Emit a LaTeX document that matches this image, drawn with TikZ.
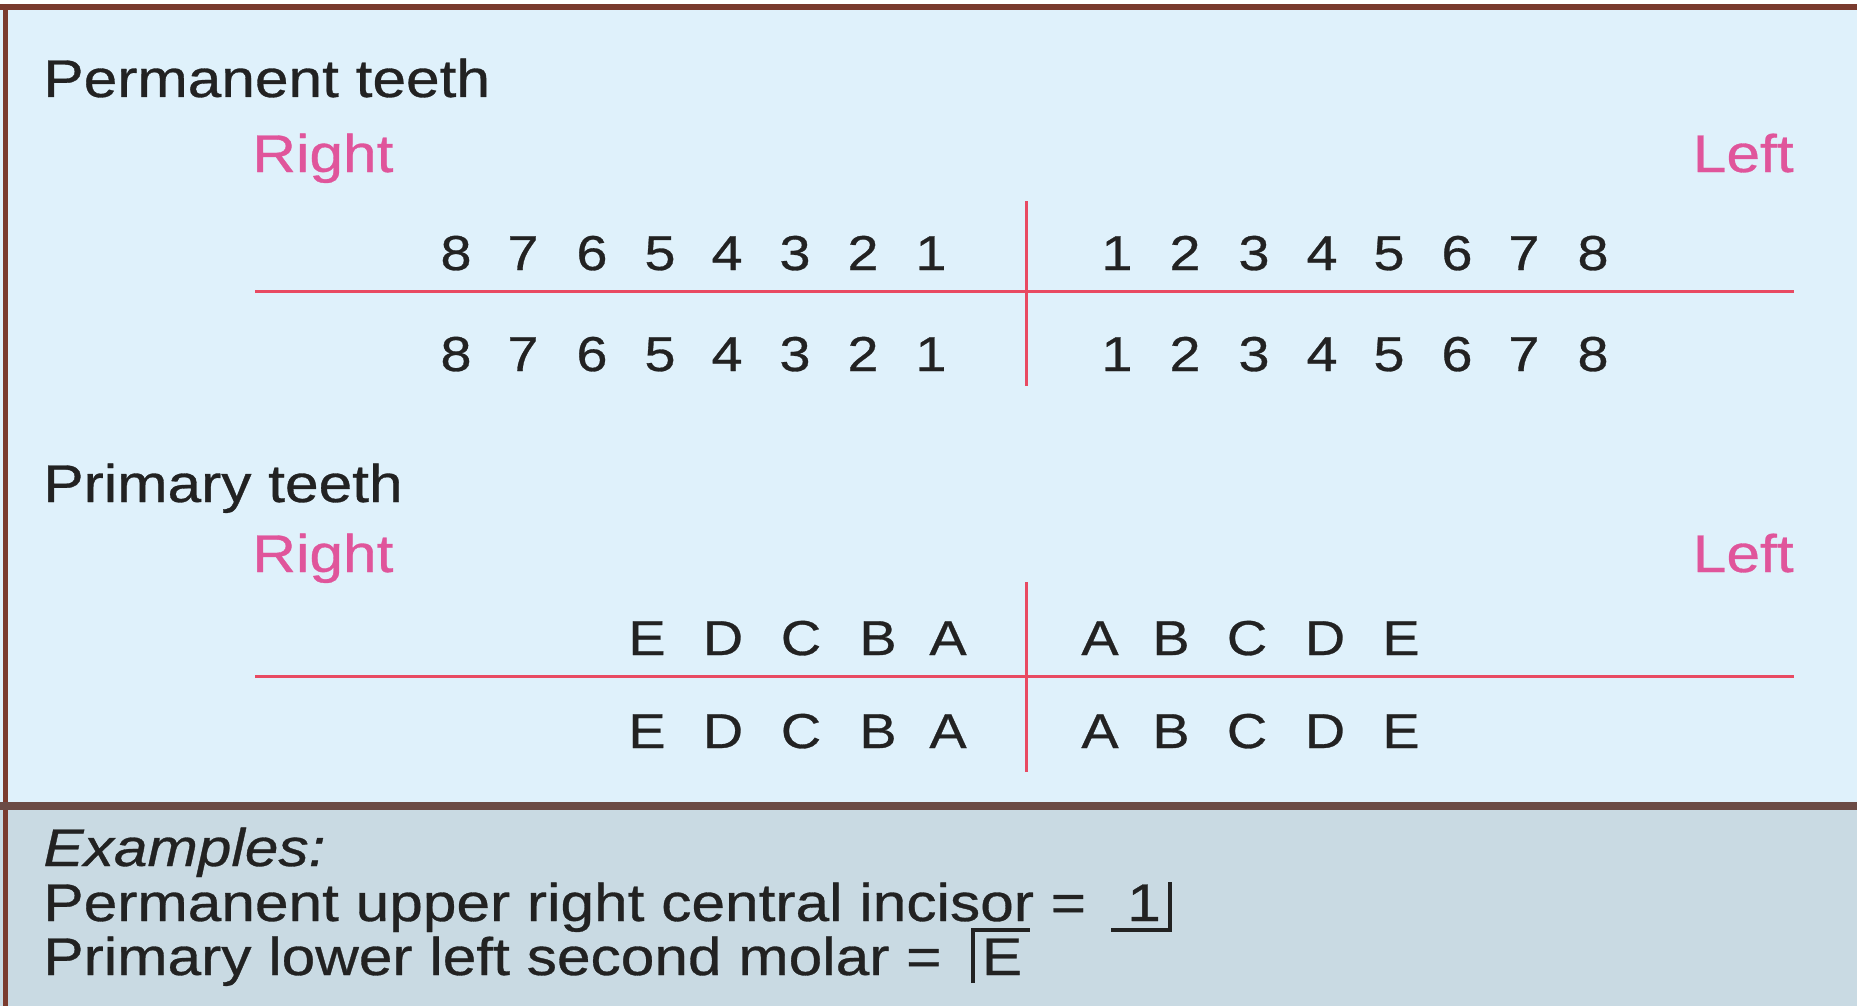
\documentclass[tikz,border=0pt]{standalone}
\usepackage{fontspec}
\setmainfont{Liberation Sans}[FakeStretch=1.14,FakeBold=0.6]
\definecolor{panelblue}{HTML}{DFF1FB}
\definecolor{panelgray}{HTML}{C9DAE3}
\definecolor{framebrown}{HTML}{7A3B2E}
\definecolor{dividerbrown}{HTML}{6B4B45}
\definecolor{sidepink}{HTML}{E0559B}
\definecolor{linered}{HTML}{E84A62}
\definecolor{inkdark}{HTML}{222222}
\begin{document}
\begin{tikzpicture}[x=0.5pt,y=-0.5pt,
  head/.style={anchor=base west,inner sep=0pt,font=\fontsize{26.5}{30}\selectfont,text=inkdark},
  sidelabel/.style={inner sep=0pt,font=\fontsize{26.5}{30}\selectfont,text=sidepink},
  tooth/.style={anchor=base,inner sep=0pt,font=\fontsize{24.5}{28}\selectfont,text=inkdark},
  redline/.style={draw=linered,line width=1.5pt},
  bracketline/.style={draw=inkdark,line width=1.8pt}]
\useasboundingbox (0,0) rectangle (1857,1006);
% panels
\fill[panelblue] (0,0) rectangle (1857,806);
\fill[panelgray] (0,806) rectangle (1857,1006);
\fill[white] (0,0) rectangle (1857,4);
\fill[framebrown] (0,4) rectangle (1857,10);
\fill[framebrown] (3,4) rectangle (8,1006);
\fill[dividerbrown] (0,802) rectangle (1857,810);

% permanent teeth
\node[head] (perm) at (43,97) {Permanent teeth};
\node[sidelabel,anchor=base west] (pright) at (252,172) {Right};
\node[sidelabel,anchor=base east] (pleft) at (1794,172) {Left};
\foreach \x/\t [count=\i] in {456/8,523/7,592/6,660/5,727/4,795/3,863/2,931/1}{
  \node[tooth] (pur\i) at (\x,270) {\t};
  \node[tooth] (plr\i) at (\x,371) {\t};
}
\foreach \x/\t [count=\i] in {1117/1,1185/2,1254/3,1322/4,1389/5,1457/6,1524/7,1593/8}{
  \node[tooth] (pul\i) at (\x,270) {\t};
  \node[tooth] (pll\i) at (\x,371) {\t};
}
\coordinate (ph1) at (255,291);
\coordinate (ph2) at (1794,291);
\coordinate (pv1) at (1026,201);
\coordinate (pv2) at (1026,386);
\draw[redline] (ph1) -- (ph2);
\draw[redline] (pv1) -- (pv2);

% primary teeth
\node[head] (prim) at (43,502) {Primary teeth};
\node[sidelabel,anchor=base west] (qright) at (252,572) {Right};
\node[sidelabel,anchor=base east] (qleft) at (1794,572) {Left};
\foreach \x/\t [count=\i] in {647/E,723/D,801/C,878/B,948/A}{
  \node[tooth] (qur\i) at (\x,655) {\t};
  \node[tooth] (qlr\i) at (\x,748) {\t};
}
\foreach \x/\t [count=\i] in {1100/A,1171/B,1247/C,1325/D,1401/E}{
  \node[tooth] (qul\i) at (\x,655) {\t};
  \node[tooth] (qll\i) at (\x,748) {\t};
}
\coordinate (qh1) at (255,676);
\coordinate (qh2) at (1794,676);
\coordinate (qv1) at (1026,582);
\coordinate (qv2) at (1026,772);
\draw[redline] (qh1) -- (qh2);
\draw[redline] (qv1) -- (qv2);

% examples
\node[head] (ex) at (43,866) {\itshape Examples:};
\node[head] (ex1) at (43,921) {Permanent upper right central incisor =};
\node[tooth,font=\fontsize{26.5}{30}\selectfont] (one) at (1144,921) {1};
\node[head] (ex2) at (43,975) {Primary lower left second molar =};
\node[tooth,font=\fontsize{26.5}{30}\selectfont] (ee) at (1002,975) {E};
\draw[bracketline] (1111,930) -- (1170,930) -- (1170,882);
\draw[bracketline] (973,983) -- (973,930) -- (1030,930);
\end{tikzpicture}
\end{document}
